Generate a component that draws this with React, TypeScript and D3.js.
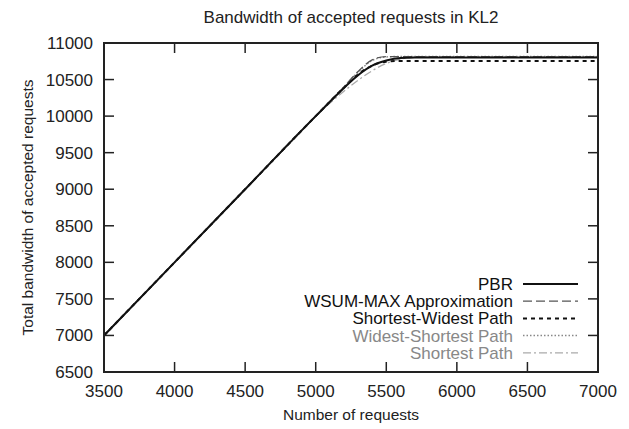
import React, { useEffect, useRef } from "react";
import * as d3 from "d3";

const requests = [3500, 4000, 4500, 5000, 5200, 5300, 5400, 5500, 5600, 5700, 6000, 6500, 7000];
const pbr = [7000, 8000, 9000, 10000, 10385, 10560, 10690, 10760, 10795, 10800, 10800, 10800, 10800];
const wsumMax = [7000, 8000, 9000, 10000, 10400, 10610, 10770, 10815, 10815, 10815, 10815, 10815, 10815];
const shortestWidest = [7000, 8000, 9000, 10000, 10390, 10570, 10690, 10745, 10755, 10755, 10755, 10755, 10755];
const widestShortest = [7000, 8000, 9000, 10000, 10400, 10600, 10760, 10810, 10815, 10815, 10815, 10815, 10815];
const shortestPath = [7000, 8000, 9000, 10000, 10340, 10490, 10620, 10720, 10780, 10805, 10815, 10815, 10815];

const xTicks = [3500, 4000, 4500, 5000, 5500, 6000, 6500, 7000];
const yTicks = [6500, 7000, 7500, 8000, 8500, 9000, 9500, 10000, 10500, 11000];

const series = [
  { name: "PBR", values: pbr, color: "#111", width: 2, dash: "", text: "#111" },
  { name: "WSUM-MAX Approximation", values: wsumMax, color: "#555", width: 1.3, dash: "9,4", text: "#111" },
  { name: "Shortest-Widest Path", values: shortestWidest, color: "#111", width: 2, dash: "4,4", text: "#111" },
  { name: "Widest-Shortest Path", values: widestShortest, color: "#888", width: 1.5, dash: "1.5,2", text: "#888" },
  { name: "Shortest Path", values: shortestPath, color: "#aaa", width: 1.3, dash: "8,3,2,3", text: "#888" },
];

export default function App() {
  const ref = useRef<SVGSVGElement>(null);

  useEffect(() => {
    const svg = d3.select(ref.current);
    svg.selectAll("*").remove();
    const left = 104, right = 598, top = 43, bottom = 372;
    const font = "Liberation Sans, Arial, sans-serif";

    const x = d3.scaleLinear().domain([3500, 7000]).range([left, right]);
    const y = d3.scaleLinear().domain([6500, 11000]).range([bottom, top]);

    svg.append("rect").attr("width", 629).attr("height", 429).attr("fill", "#fff");

    // ticks mirrored on all sides, pointing inward
    const tk = 10;
    const g = svg.append("g").attr("stroke", "#222").attr("stroke-width", 1.5);
    xTicks.forEach((t) => {
      g.append("line").attr("x1", x(t)).attr("x2", x(t)).attr("y1", bottom).attr("y2", bottom - tk);
      g.append("line").attr("x1", x(t)).attr("x2", x(t)).attr("y1", top).attr("y2", top + tk);
    });
    yTicks.forEach((t) => {
      g.append("line").attr("x1", left).attr("x2", left + tk).attr("y1", y(t)).attr("y2", y(t));
      g.append("line").attr("x1", right).attr("x2", right - tk).attr("y1", y(t)).attr("y2", y(t));
    });

    svg.append("g")
      .selectAll("text")
      .data(xTicks)
      .join("text")
      .attr("x", (d) => x(d))
      .attr("y", bottom + 25)
      .attr("text-anchor", "middle")
      .attr("font-family", font)
      .attr("font-size", 17)
      .attr("fill", "#222")
      .text((d) => d);

    svg.append("g")
      .selectAll("text")
      .data(yTicks)
      .join("text")
      .attr("x", left - 11)
      .attr("y", (d) => y(d) + 6)
      .attr("text-anchor", "end")
      .attr("font-family", font)
      .attr("font-size", 17)
      .attr("fill", "#222")
      .text((d) => d);

    const line = d3
      .line<number>()
      .x((d, i) => x(requests[i]))
      .y((d) => y(d))
      .curve(d3.curveMonotoneX);

    const plot = svg.append("g");
    series
      .slice()
      .reverse()
      .forEach((s) => {
        plot.append("path")
          .attr("d", line(s.values))
          .attr("fill", "none")
          .attr("stroke", s.color)
          .attr("stroke-width", s.width)
          .attr("stroke-dasharray", s.dash);
      });

    // frame
    svg.append("rect")
      .attr("x", left).attr("y", top)
      .attr("width", right - left).attr("height", bottom - top)
      .attr("fill", "none").attr("stroke", "#222").attr("stroke-width", 2);

    // legend
    const lg = svg.append("g");
    series.forEach((s, i) => {
      const ly = 284 + i * 17.2;
      lg.append("text")
        .attr("x", 513).attr("y", ly + 6)
        .attr("text-anchor", "end")
        .attr("font-family", font).attr("font-size", 17)
        .attr("fill", s.text)
        .text(s.name);
      lg.append("line")
        .attr("x1", 523).attr("x2", 578).attr("y1", ly).attr("y2", ly)
        .attr("stroke", s.color).attr("stroke-width", s.width)
        .attr("stroke-dasharray", s.dash);
    });

    svg.append("text")
      .attr("x", 351).attr("y", 23)
      .attr("text-anchor", "middle")
      .attr("font-family", font).attr("font-size", 17).attr("fill", "#222")
      .text("Bandwidth of accepted requests in KL2");

    svg.append("text")
      .attr("x", 351).attr("y", 420)
      .attr("text-anchor", "middle")
      .attr("font-family", font).attr("font-size", 15.5).attr("fill", "#222")
      .text("Number of requests");

    svg.append("text")
      .attr("transform", `translate(33,${(top + bottom) / 2}) rotate(-90)`)
      .attr("text-anchor", "middle")
      .attr("font-family", font).attr("font-size", 15.5).attr("fill", "#222")
      .text("Total bandwidth of accepted requests");
  }, []);

  return (
    <svg
      ref={ref}
      width={629}
      height={429}
      style={{ position: "absolute", left: 0, top: 0, display: "block" }}
    />
  );
}
